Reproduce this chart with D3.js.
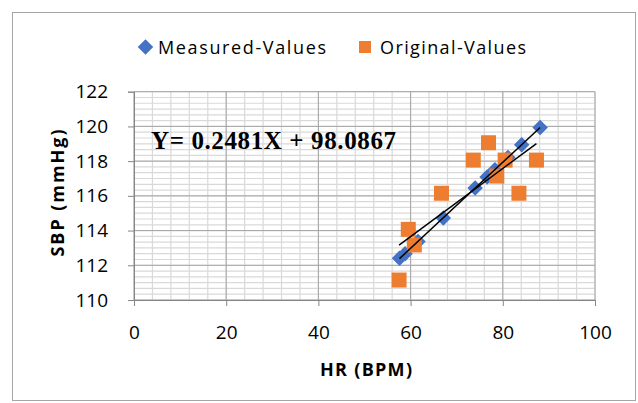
<!DOCTYPE html>
<html><head><meta charset="utf-8">
<script src="https://cdn.jsdelivr.net/npm/d3@7"></script>
<style>body{margin:0;background:#fff}svg{display:block}</style>
</head><body>
<svg id="chart" width="638" height="403"></svg>
<script>
const measuredHR  = [57.6, 58.8, 61.6, 67.1, 74.0, 76.6, 78.3, 81.1, 84.1, 88.1];
const measuredSBP = [112.41, 112.67, 113.37, 114.73, 116.45, 117.09, 117.51, 118.21, 118.95, 119.94];
const originalHR  = [57.5, 59.5, 60.8, 66.7, 73.6, 76.9, 78.7, 80.5, 83.5, 87.3];
const originalSBP = [111.15, 114.07, 113.17, 116.15, 118.06, 119.06, 117.14, 118.06, 116.15, 118.06];
const xTicks = [0, 20, 40, 60, 80, 100];
const yTicks = [110, 112, 114, 116, 118, 120, 122];
const seriesNames = ["Measured-Values", "Original-Values"];
const equationText = "Y= 0.2481X + 98.0867";
const xTitle = "HR (BPM)";
const yTitle = "SBP (mmHg)";

const svg = d3.select("#chart");
const L = 134, R = 595, T = 91.7, B = 300;
const x = d3.scaleLinear().domain([0, 100]).range([L, R]);
const y = d3.scaleLinear().domain([110, 122]).range([B, T]);

// outer border
svg.append("rect").attr("x", 12.5).attr("y", 12.5).attr("width", 623).attr("height", 388)
  .attr("fill", "#fff").attr("stroke", "#a6a6a6").attr("stroke-width", 1);

// minor gridlines
const g = svg.append("g");
const xMinor = d3.range(0, 100.001, 4);
const yMinor = d3.range(0, 37).map(i => 110 + i / 3);
g.selectAll(".ymin").data(yMinor).join("line")
  .attr("x1", L).attr("x2", R).attr("y1", d => y(d)).attr("y2", d => y(d))
  .attr("stroke", "#d9d9d9").attr("stroke-width", 1.2);
g.selectAll(".xmin").data(xMinor).join("line")
  .attr("x1", d => x(d)).attr("x2", d => x(d)).attr("y1", T).attr("y2", B)
  .attr("stroke", "#d9d9d9").attr("stroke-width", 1.2);
// major gridlines
g.selectAll(".ymaj").data(yTicks).join("line")
  .attr("x1", L).attr("x2", R).attr("y1", d => y(d)).attr("y2", d => y(d))
  .attr("stroke", "#a6a6a6").attr("stroke-width", 1);
g.selectAll(".xmaj").data(xTicks).join("line")
  .attr("x1", d => x(d)).attr("x2", d => x(d)).attr("y1", T).attr("y2", B)
  .attr("stroke", "#a6a6a6").attr("stroke-width", 1);

// axes
const fontUI = "'Open Sans', Lato, sans-serif";
const xAxis = svg.append("g").attr("transform", `translate(0,${B})`)
  .call(d3.axisBottom(x).tickValues(xTicks).tickSize(6).tickPadding(20));
const yAxis = svg.append("g").attr("transform", `translate(${L},0)`)
  .call(d3.axisLeft(y).tickValues(yTicks).tickSize(6).tickPadding(20));
[xAxis, yAxis].forEach(a => {
  a.select(".domain").attr("stroke", "#868686");
  a.selectAll(".tick line").attr("stroke", "#868686");
  a.selectAll("text").attr("font-family", fontUI).attr("font-size", 19).attr("fill", "#000");
});

// measured points (diamonds)
const mData = measuredHR.map((d, i) => ({x: d, y: measuredSBP[i]}));
const oData = originalHR.map((d, i) => ({x: d, y: originalSBP[i]}));
const diamond = d3.symbol().type(d3.symbolSquare).size(120);
svg.append("g").selectAll("path").data(mData).join("path")
  .attr("d", diamond)
  .attr("transform", d => `translate(${x(d.x)},${y(d.y)}) rotate(45)`)
  .attr("fill", "#4472c4");
svg.append("g").selectAll("rect").data(oData).join("rect")
  .attr("x", d => x(d.x) - 7.5).attr("y", d => y(d.y) - 7.5)
  .attr("width", 15).attr("height", 15).attr("fill", "#ed7d31");

// linear trendlines computed from data
function fit(data) {
  const mx = d3.mean(data, d => d.x), my = d3.mean(data, d => d.y);
  const b = d3.sum(data, d => (d.x - mx) * (d.y - my)) / d3.sum(data, d => (d.x - mx) ** 2);
  const a = my - b * mx;
  const [x0, x1] = d3.extent(data, d => d.x);
  return [{x: x0, y: a + b * x0}, {x: x1, y: a + b * x1}];
}
const line = d3.line().x(d => x(d.x)).y(d => y(d.y));
[fit(mData), fit(oData)].forEach(seg => {
  svg.append("path").attr("d", line(seg)).attr("fill", "none")
    .attr("stroke", "#000").attr("stroke-width", 1.5);
});

// equation
svg.append("text").attr("x", 151).attr("y", 149)
  .attr("font-family", "'Liberation Serif', 'Times New Roman', serif")
  .attr("font-weight", "bold").attr("font-size", 25).attr("fill", "#000")
  .attr("textLength", 245).attr("lengthAdjust", "spacing")
  .text(equationText);

// legend
const leg = svg.append("g").attr("font-family", fontUI).attr("font-size", 18);
leg.append("path").attr("d", d3.symbol().type(d3.symbolSquare).size(120)())
  .attr("transform", "translate(145.5,47) rotate(45)").attr("fill", "#4472c4");
leg.append("text").attr("x", 158).attr("y", 53.5)
  .attr("textLength", 168).attr("lengthAdjust", "spacing").text(seriesNames[0]);
leg.append("rect").attr("x", 359).attr("y", 41).attr("width", 12).attr("height", 12).attr("fill", "#ed7d31");
leg.append("text").attr("x", 380).attr("y", 53.5)
  .attr("textLength", 146).attr("lengthAdjust", "spacing").text(seriesNames[1]);

// axis titles
svg.append("text").attr("x", 366).attr("y", 376).attr("text-anchor", "middle")
  .attr("font-family", fontUI).attr("font-weight", "bold").attr("font-size", 18)
  .attr("textLength", 92).attr("lengthAdjust", "spacing").text(xTitle);
svg.append("text").attr("transform", "translate(64,193) rotate(-90)").attr("text-anchor", "middle")
  .attr("font-family", fontUI).attr("font-weight", "bold").attr("font-size", 18)
  .attr("textLength", 127).attr("lengthAdjust", "spacing").text(yTitle);
</script>
</body></html>
